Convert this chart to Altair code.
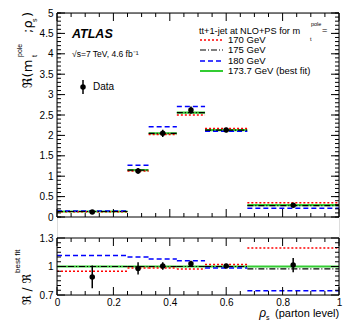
import altair as alt
import pandas as pd

FONT = "Liberation Sans"
W = 282
H = 282
MAIN_H = 204      # main panel occupies y 0..204
R_TOP = 225       # ratio panel occupies y 225..282

# ---- data ----
bin_lo = [0.0, 0.25, 0.325, 0.425, 0.525, 0.675]
bin_hi = [0.25, 0.325, 0.425, 0.525, 0.675, 1.0]
bin_center = [0.125, 0.2875, 0.375, 0.475, 0.6, 0.8375]

main_170 = [0.128, 1.13, 2.02, 2.50, 2.17, 0.35]
main_175 = [0.135, 1.15, 2.05, 2.56, 2.13, 0.28]
main_180 = [0.150, 1.27, 2.21, 2.71, 2.10, 0.215]
main_fit = [0.135, 1.15, 2.05, 2.56, 2.13, 0.29]
data_main = [0.12, 1.13, 2.05, 2.62, 2.13, 0.29]
data_main_err = [0.015, 0.07, 0.09, 0.09, 0.05, 0.02]

ratio_170 = [0.95, 0.985, 0.985, 0.975, 1.02, 1.195]
ratio_175 = [1.0, 1.0, 1.0, 1.0, 1.0, 0.975]
ratio_180 = [1.116, 1.10, 1.08, 1.06, 0.985, 0.745]
ratio_fit = [1.0, 1.0, 1.0, 1.0, 1.0, 1.0]
data_ratio = [0.89, 0.98, 1.005, 1.03, 1.005, 1.015]
data_ratio_err = [0.12, 0.065, 0.04, 0.03, 0.02, 0.075]

series_names = ["170 GeV", "175 GeV", "180 GeV", "173.7 GeV (best fit)"]
series_colors = ["#ff0000", "#000000", "#0000ff", "#33cc33"]
series_dash = [[2, 2], [6, 2, 1, 2], [5, 3], [1, 0]]
series_width = [1.5, 1.2, 1.5, 2.2]

x_major = [0.0, 0.2, 0.4, 0.6, 0.8, 1.0]
x_minor = [0.05, 0.1, 0.15, 0.25, 0.3, 0.35, 0.45, 0.5, 0.55, 0.65, 0.7, 0.75, 0.85, 0.9, 0.95]
y_main_major = [0, 0.5, 1, 1.5, 2, 2.5, 3, 3.5, 4, 4.5, 5]
y_main_minor = [round(0.1 * i, 2) for i in range(51)]
y_ratio_major = [0.7, 1.0, 1.3]
y_ratio_minor = [0.75, 0.8, 0.85, 0.9, 0.95, 1.05, 1.1, 1.15, 1.2, 1.25]

# ---- scales / axes ----
xs = alt.Scale(domain=[0, 1], nice=False, zero=False)
ms = alt.Scale(domain=[0, 5], range=[MAIN_H, 0], nice=False, zero=False)
rs = alt.Scale(domain=[0.7, 1.3], range=[H, R_TOP], nice=False, zero=False)

lab = dict(labelFont=FONT, labelFontSize=10, labelColor="black", ticks=False,
           domain=False, grid=False, title=None, labelFlush=False, labelOverlap=False)
x_axis = alt.Axis(values=x_major, format="~g", labelPadding=2, orient="bottom", **lab)
ym_axis = alt.Axis(values=y_main_major, format="~g", labelPadding=4, orient="left", **lab)
yr_axis = alt.Axis(values=y_ratio_major, format="~g", labelPadding=4, orient="left", **lab)


def X(f):
    return alt.X(f, type="quantitative", scale=xs, axis=x_axis)


def YM(f):
    return alt.Y(f, type="quantitative", scale=ms, axis=ym_axis)


def YR(f):
    return alt.Y(f, type="quantitative", scale=rs, axis=yr_axis)


one = pd.DataFrame({"a": [0]})

main_vals = [main_170, main_175, main_180, main_fit]
ratio_vals = [ratio_170, ratio_175, ratio_180, ratio_fit]
draw_order = [3, 0, 2, 1]

main_layers = []
ratio_layers = []
for i in draw_order:
    dm = pd.DataFrame({"lo": bin_lo, "hi": bin_hi, "v": main_vals[i]})
    main_layers.append(
        alt.Chart(dm).mark_rule(color=series_colors[i], strokeDash=series_dash[i],
                                strokeWidth=series_width[i])
        .encode(x=X("lo:Q"), x2="hi:Q", y=YM("v:Q"))
    )
    dr = pd.DataFrame({"lo": bin_lo, "hi": bin_hi, "v": ratio_vals[i]})
    ratio_layers.append(
        alt.Chart(dr).mark_rule(color=series_colors[i], strokeDash=series_dash[i],
                                strokeWidth=series_width[i])
        .encode(x=X("lo:Q"), x2="hi:Q", y=YR("v:Q"))
    )

dd = pd.DataFrame({"x": bin_center, "v": data_main,
                   "lo": [v - e for v, e in zip(data_main, data_main_err)],
                   "hi": [v + e for v, e in zip(data_main, data_main_err)]})
main_layers.append(alt.Chart(dd).mark_rule(color="black", strokeWidth=1.5)
                   .encode(x=X("x:Q"), y=YM("lo:Q"), y2="hi:Q"))
main_layers.append(alt.Chart(dd).mark_point(filled=True, size=30, color="black", opacity=1)
                   .encode(x=X("x:Q"), y=YM("v:Q")))

dr = pd.DataFrame({"x": bin_center, "v": data_ratio,
                   "lo": [v - e for v, e in zip(data_ratio, data_ratio_err)],
                   "hi": [v + e for v, e in zip(data_ratio, data_ratio_err)]})
ratio_layers.append(alt.Chart(dr).mark_rule(color="black", strokeWidth=1.5)
                    .encode(x=X("x:Q"), y=YR("lo:Q"), y2="hi:Q"))
ratio_layers.append(alt.Chart(dr).mark_point(filled=True, size=30, color="black", opacity=1)
                    .encode(x=X("x:Q"), y=YR("v:Q")))


def xticks(vals, y0, length):
    return alt.Chart(pd.DataFrame({"t": vals})).mark_rule(color="black", strokeWidth=1).encode(
        x=X("t:Q"), y=alt.value(y0), y2=alt.value(y0 + length))


for vals, ln in ((x_major, 8), (x_minor, 4)):
    main_layers.append(xticks(vals, MAIN_H, -ln))
    main_layers.append(xticks(vals, 0, ln))
    ratio_layers.append(xticks(vals, H, -ln))
    ratio_layers.append(xticks(vals, R_TOP, ln))


def yticks(vals, Yf, x0, length):
    return alt.Chart(pd.DataFrame({"t": vals})).mark_rule(color="black", strokeWidth=1).encode(
        y=Yf("t:Q"), x=alt.value(x0), x2=alt.value(x0 + length))


for vals, ln in ((y_main_major, 8), (y_main_minor, 4)):
    main_layers.append(yticks(vals, YM, 0, ln))
    main_layers.append(yticks(vals, YM, W, -ln))
for vals, ln in ((y_ratio_major, 8), (y_ratio_minor, 4)):
    ratio_layers.append(yticks(vals, YR, 0, ln))
    ratio_layers.append(yticks(vals, YR, W, -ln))

frames = []
for (x1, x2, y1, y2) in [(0, W, 0, 0), (0, W, MAIN_H, MAIN_H), (0, 0, 0, MAIN_H), (W, W, 0, MAIN_H),
                         (0, W, R_TOP, R_TOP), (0, W, H, H), (0, 0, R_TOP, H), (W, W, R_TOP, H)]:
    frames.append(alt.Chart(one).mark_rule(color="black", strokeWidth=1).encode(
        x=alt.value(x1), x2=alt.value(x2), y=alt.value(y1), y2=alt.value(y2)))


def txt(x, y, s, size=10, align="left", baseline="alphabetic", angle=0, style="normal",
        weight="normal", font=FONT):
    return alt.Chart(one).mark_text(align=align, baseline=baseline, angle=angle, fontSize=size,
                                    fontStyle=style, fontWeight=weight, font=font,
                                    color="black").encode(
        x=alt.value(x), y=alt.value(y), text=alt.value(s))


ann = [
    txt(15, 25, "ATLAS", size=12.5, style="italic", weight="bold"),
    txt(15, 44, "√s=7 TeV, 4.6 fb⁻¹", size=8.5),
    txt(36, 74, "Data", size=10, baseline="middle"),
    txt(142, 21, "tt+1-jet at NLO+PS for m", size=9.2),
    txt(254, 13, "pole", size=5.5),
    txt(253, 28, "t", size=5.5),
    txt(265, 20, "=", size=9.2),
    txt(-29, 75, "ℜ(m", size=13, angle=270, baseline="middle", font="DejaVu Sans"),
    txt(-37, 44, "pole", size=7, angle=270, baseline="middle"),
    txt(-22, 44, "t", size=7, angle=270, baseline="middle"),
    txt(-29, 20, ";ρ", size=13, angle=270, baseline="middle", font="DejaVu Sans"),
    txt(-22, 9, "s", size=7, angle=270, baseline="middle"),
    txt(-29, 4, ")", size=13, angle=270, baseline="middle", font="DejaVu Sans"),
    txt(-30, 292, "ℜ / ℜ", size=12, angle=270, baseline="middle", font="DejaVu Sans"),
    txt(-39, 260, "best fit", size=8, angle=270, baseline="middle"),
    txt(209, 304, "ρ", size=12, align="right", style="italic"),
    txt(209, 307, "s", size=7),
    txt(218, 304, "(parton level)", size=11),
]
for k, name in enumerate(series_names):
    yy = [27, 37, 48, 58][k]
    ann.append(alt.Chart(one).mark_rule(color=series_colors[k], strokeDash=series_dash[k],
                                        strokeWidth=series_width[k]).encode(
        x=alt.value(143), x2=alt.value(166), y=alt.value(yy)))
    ann.append(txt(171, yy, name, size=9.5, baseline="middle"))
ann.append(alt.Chart(one).mark_rule(color="black", strokeWidth=1.5).encode(
    x=alt.value(26), y=alt.value(67), y2=alt.value(81)))
ann.append(alt.Chart(one).mark_point(filled=True, size=30, color="black", opacity=1).encode(
    x=alt.value(26), y=alt.value(74)))

main = alt.layer(*main_layers)
ratio = alt.layer(*ratio_layers)
deco = alt.layer(*(frames + ann))

chart = alt.layer(main, ratio, deco).resolve_scale(y="independent").resolve_axis(y="independent").properties(
    width=W, height=H,
    autosize=alt.AutoSizeParams(type="none"),
    padding={"left": 49, "top": 5, "right": 10, "bottom": 29},
).configure_view(stroke=None).configure(background="white")

chart.save("out.html", embed_options={"renderer": "svg", "actions": False})
